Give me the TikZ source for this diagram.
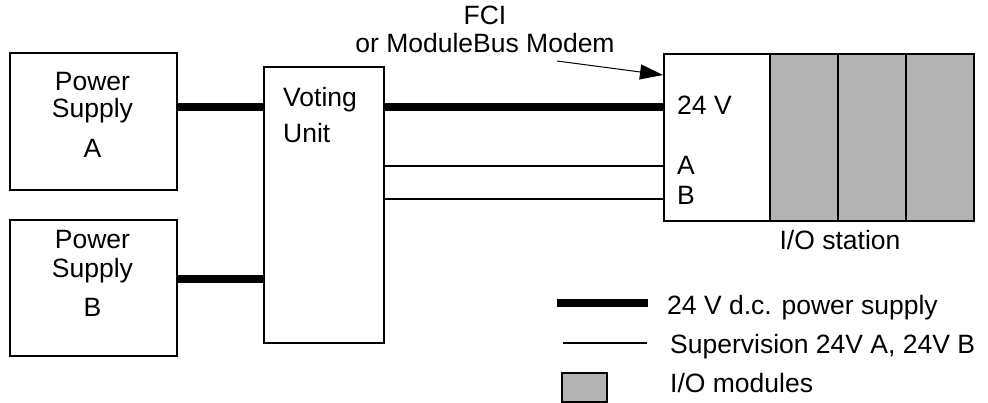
\documentclass[tikz,border=0pt]{standalone}
\usepackage{fontspec}
\setmainfont{Liberation Sans}
\usetikzlibrary{arrows.meta}
\definecolor{modgray}{RGB}{179,179,179}
\begin{document}
\begin{tikzpicture}[x=1pt,y=-1pt,
  font=\fontsize{26.5}{30}\selectfont,
  box/.style={draw, line width=2pt, inner sep=0pt, anchor=north west},
  modbox/.style={box, fill=modgray},
  txt/.style={anchor=base, inner sep=0pt},
  ltxt/.style={anchor=base west, inner sep=0pt},
  power/.style={line width=8pt},
  superv/.style={line width=1.6pt},
]
\useasboundingbox (0,0) rectangle (988,403);
% boxes
\node[box, minimum width=167pt, minimum height=137pt] (psa) at (9,52) {};
\node[box, minimum width=167pt, minimum height=136pt] (psb) at (9,219) {};
\node[box, minimum width=120pt, minimum height=276pt] (vu) at (263,66) {};
\node[box, minimum width=106pt, minimum height=167pt] (io) at (663,53) {};
\node[modbox, minimum width=68pt, minimum height=167pt] (m1) at (769,53) {};
\node[modbox, minimum width=68pt, minimum height=167pt] (m2) at (837,53) {};
\node[modbox, minimum width=68pt, minimum height=167pt] (m3) at (905,53) {};
% texts in boxes
\node[txt] (pa1) at (92.5,91) {Power};
\node[txt] (pa2) at (92.5,118) {Supply};
\node[txt] (pa3) at (92.5,158) {A};
\node[txt] (pb1) at (92.5,249) {Power};
\node[txt] (pb2) at (92.5,278) {Supply};
\node[txt] (pb3) at (92.5,317) {B};
\node[ltxt] (vu1) at (283,107) {Voting};
\node[ltxt] (vu2) at (283,143) {Unit};
\node[ltxt] (io1) at (677,115) {24 V};
\node[ltxt] (io2) at (677,175) {A};
\node[ltxt] (io3) at (677,205) {B};
\node[txt] (iolab) at (840,250) {I/O station};
\node[txt] (fci1) at (485,25) {FCI};
\node[txt] (fci2) at (485,53) {or ModuleBus Modem};
% connectors
\draw[power] (psa.east |- 0,107) -- (vu.west |- 0,107);
\draw[power] (psb.east |- 0,279) -- (vu.west |- 0,279);
\draw[power] (vu.east |- 0,107) -- (io.west |- 0,107);
\draw[superv] (vu.east |- 0,166) -- (io.west |- 0,166);
\draw[superv] (vu.east |- 0,199) -- (io.west |- 0,199);
\coordinate (fcitail) at (557,61);
\draw[line width=1pt, -{Triangle[length=23pt,width=15pt]}] (fcitail) -- (io.west |- 0,75);
% legend
\coordinate (lg1a) at (557,303);
\coordinate (lg1b) at (648,303);
\draw[power] (lg1a) -- (lg1b);
\node[ltxt] (lt1) at (667,315) {24 V d.c. power supply};
\coordinate (lg2a) at (563,343);
\coordinate (lg2b) at (647,343);
\draw[superv] (lg2a) -- (lg2b);
\node[ltxt] (lt2) at (670,353) {Supervision 24V A, 24V B};
\node[modbox, minimum width=45pt, minimum height=29pt] (lg3) at (561,372) {};
\node[ltxt] (lt3) at (670,392) {I/O modules};
\end{tikzpicture}
\end{document}
